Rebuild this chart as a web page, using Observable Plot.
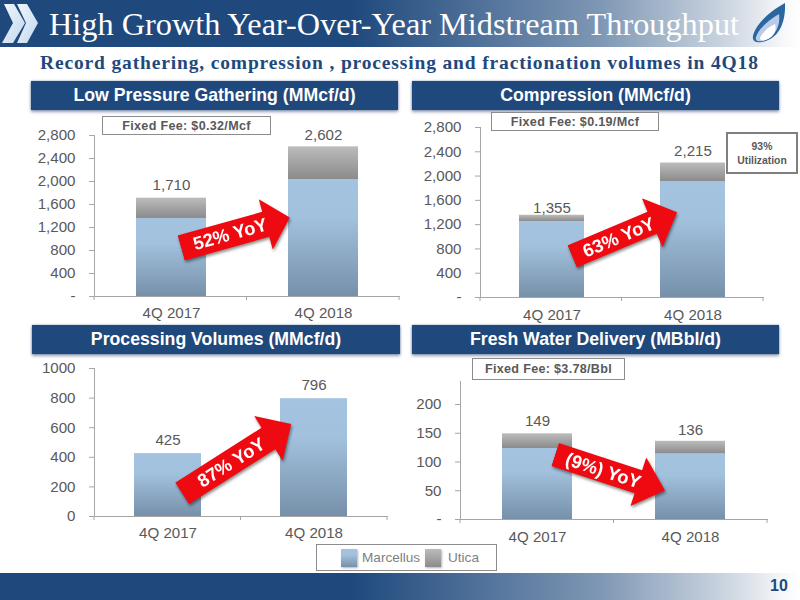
<!DOCTYPE html>
<html>
<head>
<meta charset="utf-8">
<script src="https://cdn.jsdelivr.net/npm/d3@7"></script>
<script src="https://cdn.jsdelivr.net/npm/@observablehq/plot@0.6"></script>
<style>
html,body{margin:0;padding:0;background:#fff;}
#page{position:relative;width:800px;height:600px;overflow:hidden;background:#fff;font-family:"Liberation Sans",Arial,sans-serif;}
.abs{position:absolute;box-sizing:border-box;}
.band{background:linear-gradient(90deg,#1f497d 0%,#1f497d 44%,#7e97b4 75%,#cdd6e1 91%,#f7f8fa 98%,#ffffff 100%);}
.head{background:#1f497d;color:#fff;font-weight:700;font-size:17.7px;text-align:center;line-height:29px;box-shadow:0 2px 3px rgba(70,90,120,.55),0 0 2px rgba(120,150,190,.8);}
.fee{background:#fff;border:1px solid #8c8c8c;color:#595959;font-weight:700;font-size:12.6px;text-align:center;letter-spacing:.3px;}
.arrowWrap{position:absolute;left:0;top:0;filter:drop-shadow(1px 2px 1.5px rgba(0,0,0,.45));}
.arrow{position:absolute;background:#ee0a10;color:#fff;font-weight:700;transform-origin:0 50%;}
.arrow span{position:absolute;left:0;top:0;bottom:0;text-align:center;white-space:nowrap;}
svg.plot{position:absolute;overflow:visible;background:transparent;}
</style>
</head>
<body>
<svg width="0" height="0" style="position:absolute">
  <defs>
    <linearGradient id="gMarcellus" x1="0" y1="0" x2="0" y2="1">
      <stop offset="0" stop-color="#a4c3e0"/><stop offset=".33" stop-color="#a2c1dd"/><stop offset="1" stop-color="#7690a9"/>
    </linearGradient>
    <linearGradient id="gUtica" x1="0" y1="0" x2="0" y2="1">
      <stop offset="0" stop-color="#bcbcbc"/><stop offset="1" stop-color="#8b8b8b"/>
    </linearGradient>
    <linearGradient id="gChev" x1="0" y1="0" x2="1" y2="1">
      <stop offset="0" stop-color="#f0f6fc"/><stop offset="1" stop-color="#c3d8ee"/>
    </linearGradient>
  </defs>
</svg>
<div id="page"></div>
<script>
const quarters = ["4Q 2017", "4Q 2018"];
const series = ["Marcellus", "Utica"];

const gatheringMarcellus = [1357, 2035];
const gatheringUtica = [353, 567];
const gatheringTotal = [1710, 2602];
const gatheringTicks = [0, 400, 800, 1200, 1600, 2000, 2400, 2800];

const compressionMarcellus = [1252, 1910];
const compressionUtica = [103, 305];
const compressionTotal = [1355, 2215];
const compressionTicks = [0, 400, 800, 1200, 1600, 2000, 2400, 2800];

const processingMarcellus = [425, 796];
const processingUtica = [0, 0];
const processingTotal = [425, 796];
const processingTicks = [0, 200, 400, 600, 800, 1000];

const waterMarcellus = [123.5, 114];
const waterUtica = [25.5, 22];
const waterTotal = [149, 136];
const waterTicks = [0, 50, 100, 150, 200];

const page = document.getElementById("page");
function el(css, cls, html) {
  const d = document.createElement("div");
  d.className = "abs " + (cls || "");
  d.style.cssText = css;
  if (html != null) d.innerHTML = html;
  page.appendChild(d);
  return d;
}

// Header / footer
el("left:0;top:0;width:800px;height:47px;", "band");
el("left:0;top:573px;width:800px;height:27px;", "band");
el("left:49px;top:2px;height:44px;line-height:44px;color:#fff;font-family:'Liberation Serif',serif;font-size:32.3px;white-space:nowrap;", "", "High Growth Year-Over-Year Midstream Throughput");
el("left:40px;top:50px;height:26px;line-height:26px;color:#1f497d;font-family:'Liberation Serif',serif;font-weight:700;font-size:19.5px;white-space:nowrap;letter-spacing:.85px;", "", "Record gathering, compression , processing and fractionation volumes in 4Q18");
el("left:767px;top:574px;width:24px;height:24px;line-height:24px;color:#1f497d;font-weight:700;font-size:16px;text-align:center;", "", "10");

// Chevrons and flame
const deco = document.createElement("div");
deco.className = "abs";
deco.style.cssText = "left:0;top:0;width:800px;height:50px;";
deco.innerHTML = `<svg width="800" height="50" style="position:absolute;left:0;top:0">
<polygon points="4,4 14,4 25,23 13,43 2,43 13,23" fill="url(#gChev)"/>
<polygon points="17,4 27,4 38,23 27,43 17,43 26,23" fill="url(#gChev)"/>
<path d="M785,3 C768,12 755,26 753,36 C752,41 756,43 762,42 C775,40 786,28 785,3Z" fill="#2a66a0"/>
<path d="M779,14 C768,20 758,30 756,37 C755,41 758,42 763,41 C773,38 781,28 779,14Z" fill="#b9cbe6"/>
<path d="M775,24 C768,27 762,33 760,38 C760,41 764,41 768,39 C774,36 777,30 775,24Z" fill="#ffffff"/>
</svg>`;
page.appendChild(deco);

// Panel titles
el("left:31px;top:81px;width:367px;height:29px;", "head", "Low Pressure Gathering (MMcf/d)");
el("left:412px;top:81px;width:367px;height:29px;", "head", "Compression (MMcf/d)");
el("left:32px;top:325px;width:368px;height:29px;", "head", "Processing Volumes (MMcf/d)");
el("left:412px;top:325px;width:367px;height:29px;", "head", "Fresh Water Delivery (MBbl/d)");

const grey = "#595959", axisGrey = "#a6a6a6";
function rows(m, u) {
  return quarters.flatMap((q, i) => [
    {quarter: q, series: series[0], value: m[i]},
    {quarter: q, series: series[1], value: u[i]}
  ]).filter(d => d.value > 0);
}
function chart(cfg) {
  const labels = quarters.map((q, i) => ({quarter: q, total: cfg.total[i]}));
  const p = Plot.plot({
    width: cfg.box[2], height: cfg.box[3],
    marginLeft: cfg.m[0], marginRight: cfg.m[1], marginTop: cfg.m[2], marginBottom: cfg.m[3],
    style: {background: "transparent", fontFamily: "'Liberation Sans',Arial,sans-serif", overflow: "visible"},
    x: {domain: quarters, paddingInner: cfg.pad, paddingOuter: cfg.pad / 2, label: null},
    y: {domain: [0, cfg.max], label: null},
    color: {domain: series, range: ["url(#gMarcellus)", "url(#gUtica)"]},
    marks: [
      Plot.barY(rows(cfg.marcellus, cfg.utica), Plot.stackY({x: "quarter", y: "value", fill: "series"})),
      Plot.frame({anchor: "left", stroke: axisGrey}),
      Plot.frame({anchor: "bottom", stroke: axisGrey}),
      (index, scales, values, dim) => {
        const g = d3.create("svg:g").attr("stroke", axisGrey);
        const l = dim.marginLeft, r = dim.width - dim.marginRight, b = dim.height - dim.marginBottom;
        [l, (l + r) / 2, r].forEach(x => g.append("line").attr("x1", x).attr("x2", x).attr("y1", b).attr("y2", b + 4));
        return g.node();
      },
      Plot.axisY({ticks: cfg.ticks, tickSize: 5, tickPadding: 14, stroke: axisGrey, fill: grey, fontSize: 15.1, label: null,
        tickFormat: cfg.zero ? (d => d === 0 ? "-" : d3.format(",")(d)) : (d => String(d))}),
      Plot.axisX({tickSize: 0, tickPadding: cfg.xPad, fill: grey, fontSize: 15.1, label: null}),
      ...labels.map((d, i) => Plot.text([d], {x: "quarter", y: "total", text: v => d3.format(",")(v.total), dy: cfg.dy[i], fill: grey, fontSize: 15.1}))
    ]
  });
  p.classList.add("plot");
  p.style.left = cfg.box[0] + "px";
  p.style.top = cfg.box[1] + "px";
  p.style.maxWidth = "none";
  page.appendChild(p);
}

chart({box: [30, 120, 373, 206], m: [64, 4, 15, 30], pad: .54, max: 2800, ticks: gatheringTicks, zero: true, xPad: 11,
  marcellus: gatheringMarcellus, utica: gatheringUtica, total: gatheringTotal, dy: [-13, -12]});
chart({box: [412, 115, 355, 212], m: [68, 4, 12, 30], pad: .54, max: 2800, ticks: compressionTicks, zero: true, xPad: 12,
  marcellus: compressionMarcellus, utica: compressionUtica, total: compressionTotal, dy: [-7, -12]});
chart({box: [30, 355, 360, 190], m: [64, 3, 13, 29], pad: .54, max: 1000, ticks: processingTicks, zero: false, xPad: 11,
  marcellus: processingMarcellus, utica: processingUtica, total: processingTotal, dy: [-13, -14]});
chart({box: [412, 370, 358, 178], m: [48, 3, 11, 29], pad: .54, max: 240, ticks: waterTicks, zero: true, xPad: 12,
  marcellus: waterMarcellus, utica: waterUtica, total: waterTotal, dy: [-13, -11]});

// Call-out boxes
el("left:102px;top:116px;width:169px;height:19px;line-height:18px;", "fee", "Fixed Fee: $0.32/Mcf");
el("left:491px;top:112px;width:168px;height:19px;line-height:18px;", "fee", "Fixed Fee: $0.19/Mcf");
el("left:472px;top:358px;width:153px;height:22px;line-height:21px;", "fee", "Fixed Fee: $3.78/Bbl");
el("left:726px;top:132px;width:72px;height:42px;border:2px solid #7f7f7f;background:#fff;color:#595959;font-weight:700;font-size:10.4px;line-height:13.5px;text-align:center;padding-top:6px;", "", "93%<br>Utilization");

// Growth arrows
function arrow(x, y, len, angle, shaft, headW, headL, size, label) {
  const wrap = document.createElement("div");
  wrap.className = "arrowWrap";
  const a = document.createElement("div");
  a.className = "arrow";
  const t = (headW - shaft) / 2;
  a.style.cssText = `left:${x}px;top:${y - headW / 2}px;width:${len}px;height:${headW}px;transform:rotate(${angle}deg);` +
    `clip-path:polygon(0 ${t}px,${len - headL}px ${t}px,${len - headL}px 0,${len}px 50%,${len - headL}px 100%,${len - headL}px ${headW - t}px,0 ${headW - t}px);`;
  a.innerHTML = `<span style="width:${len - headL + 14}px;line-height:${headW}px;font-size:${size}px">${label}</span>`;
  wrap.appendChild(a);
  page.appendChild(wrap);
}
arrow(181, 247.5, 113, -15.6, 26, 52, 25, 18.4, "52% YoY");
arrow(572, 256, 114, -22.8, 24, 53, 27, 18.4, "63% YoY");
arrow(181.5, 493, 129.5, -32.5, 25.5, 53, 27, 18.4, "87% YoY");
arrow(555, 454, 115.7, 18.1, 24, 51, 28, 18.4, "(9%) YoY");

// Legend
el("left:316px;top:544px;width:181px;height:27px;border:1px solid #8c8c8c;background:#fff;");
el("left:341px;top:549px;width:16px;height:18px;background:linear-gradient(180deg,#a4c3e0,#a2c1dd 33%,#7690a9);box-shadow:1px 1px 2px rgba(0,0,0,.3);");
el("left:362px;top:549px;height:18px;line-height:18px;font-size:13.6px;color:#7f7f7f;white-space:nowrap;", "", "Marcellus");
el("left:425px;top:549px;width:16px;height:18px;background:linear-gradient(180deg,#bcbcbc,#8b8b8b);box-shadow:1px 1px 2px rgba(0,0,0,.3);");
el("left:448px;top:549px;height:18px;line-height:18px;font-size:13.6px;color:#7f7f7f;white-space:nowrap;", "", "Utica");
</script>
</body>
</html>
